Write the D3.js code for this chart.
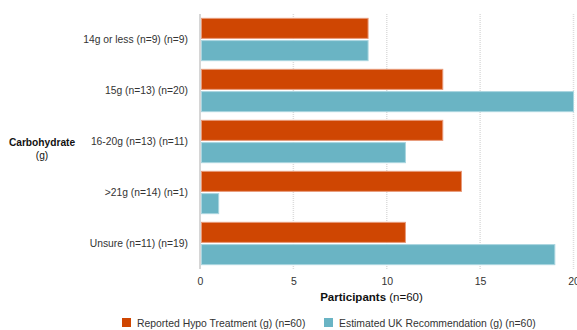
<!DOCTYPE html>
<html>
<head>
<meta charset="utf-8">
<script src="https://cdn.jsdelivr.net/npm/d3@7"></script>
<style>
  html, body { margin: 0; padding: 0; background: #fff; }
  svg { display: block; font-family: "Liberation Sans", Arial, Helvetica, sans-serif; }
</style>
</head>
<body>
<svg id="chart" width="577" height="330"></svg>
<script>
// Carbohydrate amounts: reported hypo treatment vs estimated UK recommendation
const categories = [
  "14g or less (n=9) (n=9)",
  "15g (n=13) (n=20)",
  "16-20g (n=13) (n=11)",
  ">21g (n=14) (n=1)",
  "Unsure (n=11) (n=19)"
];
const seriesNames = [
  "Reported Hypo Treatment (g) (n=60)",
  "Estimated UK Recommendation (g) (n=60)"
];
const reported = [9, 13, 13, 14, 11];
const recommended = [9, 20, 11, 1, 19];
const xTicks = [0, 5, 10, 15, 20];
const colors = ["#cf4602", "#6ab4c4"];
const strokes = ["#e89a7a", "#a9d5df"];

const svg = d3.select("#chart");
const margin = { top: 14, right: 4, bottom: 61, left: 200 };
const W = 577, H = 330;
const innerW = 573.5 - margin.left;
const innerH = H - margin.top - margin.bottom;

const x = d3.scaleLinear().domain([0, 20]).range([0, innerW]);
const y = d3.scaleBand().domain(categories).range([0, innerH]).paddingInner(0.17).paddingOuter(0.085);
const ySub = d3.scaleBand().domain([0, 1]).range([0, y.bandwidth()]).paddingInner(0.1);

const g = svg.append("g").attr("transform", `translate(${margin.left},${margin.top})`);

// vertical grid lines
g.append("g")
  .selectAll("line")
  .data(xTicks.filter(d => d > 0))
  .join("line")
  .attr("x1", d => x(d)).attr("x2", d => x(d))
  .attr("y1", 0).attr("y2", innerH)
  .attr("stroke", "#dcdcdc")
  .attr("stroke-width", 1.5)
  .attr("stroke-dasharray", "1,1");

// bars
const data = categories.map((c, i) => ({ c, v: [reported[i], recommended[i]] }));
const groups = g.selectAll("g.grp").data(data).join("g")
  .attr("class", "grp")
  .attr("transform", d => `translate(0,${y(d.c)})`);
groups.selectAll("rect")
  .data(d => d.v.map((v, k) => ({ v, k })))
  .join("rect")
  .attr("x", x(0) + 1.5)
  .attr("y", d => ySub(d.k))
  .attr("width", d => Math.max(0, x(d.v) - x(0) - 1.5))
  .attr("height", ySub.bandwidth())
  .attr("fill", d => colors[d.k])
  .attr("stroke", d => strokes[d.k])
  .attr("stroke-width", 1);

// zero axis line
g.append("line")
  .attr("x1", x(0)).attr("x2", x(0))
  .attr("y1", 0).attr("y2", innerH)
  .attr("stroke", "#d6d6d6").attr("stroke-width", 2);

// x axis tick labels
const xAxis = g.append("g")
  .attr("transform", `translate(0,${innerH})`)
  .call(d3.axisBottom(x).tickValues(xTicks).tickSize(0).tickPadding(9).tickFormat(d3.format("d")));
xAxis.select(".domain").remove();
xAxis.selectAll("text").attr("font-size", 10.5).attr("fill", "#333").attr("font-family", "Liberation Sans, Arial, sans-serif");

// category labels
const yAxis = g.append("g")
  .call(d3.axisLeft(y).tickSize(0).tickPadding(12));
yAxis.select(".domain").remove();
yAxis.selectAll("text").attr("font-size", 10.3).attr("fill", "#333").attr("font-family", "Liberation Sans, Arial, sans-serif");

// y axis title
const yt = svg.append("text")
  .attr("x", 42).attr("y", 146)
  .attr("text-anchor", "middle")
  .attr("font-size", 10.2).attr("fill", "#111");
yt.append("tspan").attr("x", 42).attr("font-weight", "bold").text("Carbohydrate");
yt.append("tspan").attr("x", 42).attr("dy", 13).text("(g)");

// x axis title
const xt = svg.append("text")
  .attr("x", 371.5).attr("y", 301)
  .attr("text-anchor", "middle")
  .attr("font-size", 11.5).attr("fill", "#111");
xt.append("tspan").attr("font-weight", "bold").text("Participants");
xt.append("tspan").text(" (n=60)");

// legend
const legendX = [122, 324];
const legend = svg.append("g");
seriesNames.forEach((name, i) => {
  legend.append("rect")
    .attr("x", legendX[i]).attr("y", 318)
    .attr("width", 9).attr("height", 9)
    .attr("fill", colors[i]);
  legend.append("text")
    .attr("x", legendX[i] + 15).attr("y", 327)
    .attr("font-size", 10.4).attr("fill", "#333")
    .text(name);
});
</script>
</body>
</html>
